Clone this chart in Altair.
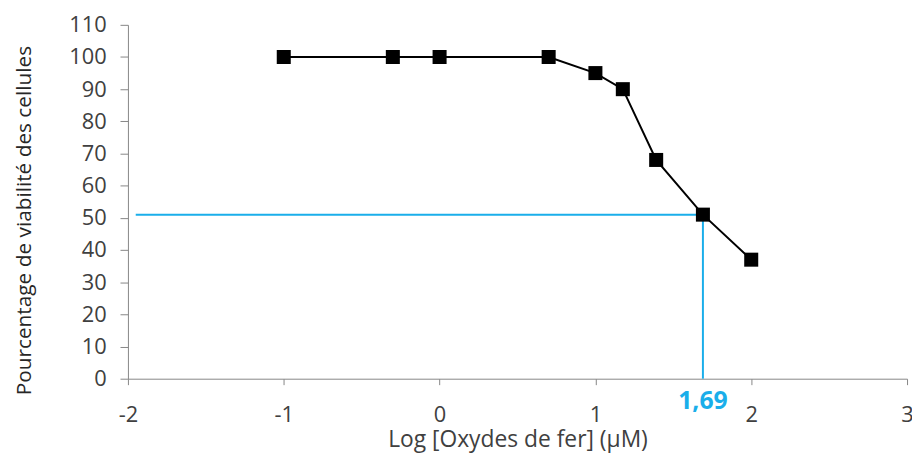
import altair as alt
import pandas as pd

# Data
log_conc = [-1, -0.3, 0, 0.7, 1, 1.176, 1.39, 1.69, 2]
viability = [100, 100, 100, 100, 95, 90, 68, 51, 37]

x_ticks = [-2, -1, 0, 1, 2, 3]
y_ticks = [0, 10, 20, 30, 40, 50, 60, 70, 80, 90, 100, 110]

ic50_x = 1.69
ic50_y = 51
hline_start = -1.95
ic50_label = "1,69"

df = pd.DataFrame({"x": log_conc, "y": viability})
hline = pd.DataFrame({"x": [hline_start], "x2": [ic50_x], "y": [ic50_y]})
vline = pd.DataFrame({"x": [ic50_x], "y": [0], "y2": [ic50_y]})
lab = pd.DataFrame({"x": [ic50_x], "y": [0], "t": [ic50_label]})

FONT = "Open Sans"
x_scale = alt.Scale(domain=[-2, 3], nice=False, zero=False)
y_scale = alt.Scale(domain=[0, 110], nice=False)

x_axis = alt.Axis(
    title="Log [Oxydes de fer] (µM)", values=x_ticks, labelExpr="'' + datum.value",
    grid=False, labelFlush=False, labelOverlap=False,
)
y_axis = alt.Axis(
    title="Pourcentage de viabilité des cellules", values=y_ticks,
    labelExpr="'' + datum.value", grid=False, labelOverlap=False,
)

X = alt.X("x:Q", scale=x_scale, axis=x_axis)
Y = alt.Y("y:Q", scale=y_scale, axis=y_axis)

h = alt.Chart(hline).mark_rule(color="#1aaeea", strokeWidth=2).encode(x=X, x2="x2:Q", y=Y)
v = alt.Chart(vline).mark_rule(color="#1aaeea", strokeWidth=2).encode(x=X, y=Y, y2="y2:Q")

base_line = alt.Chart(df).mark_line(color="black", strokeWidth=2).encode(x=X, y=Y)

pts = alt.Chart(df).mark_square(color="black", size=200, opacity=1, filled=True).encode(x=X, y=Y)

txt = alt.Chart(lab).mark_text(
    color="#1aaeea", fontWeight="bold", fontSize=25, font=FONT, dy=23, baseline="middle"
).encode(x=X, y=Y, text="t:N")

chart = alt.layer(h, v, base_line, pts, txt).properties(
    width=786, height=357,
    autosize=alt.AutoSizeParams(type="none"),
    padding={"left": 121, "top": 15, "right": 5, "bottom": 76},
).configure_view(stroke=None).configure_axis(
    domainColor="#868686", tickColor="#868686",
    labelFont=FONT, labelColor="#404040", labelFontSize=22,
    titleFont=FONT, titleFontWeight="normal",
).configure_axisX(
    tickSize=6, labelPadding=20, titleFontSize=23, titleColor="#404040", titlePadding=3,
).configure_axisY(
    tickSize=8, labelPadding=14, titleFontSize=21, titleColor="#262626", titlePadding=35,
    titleY=197,
)

chart.save("out.html", embed_options={"renderer": "svg", "actions": False})
